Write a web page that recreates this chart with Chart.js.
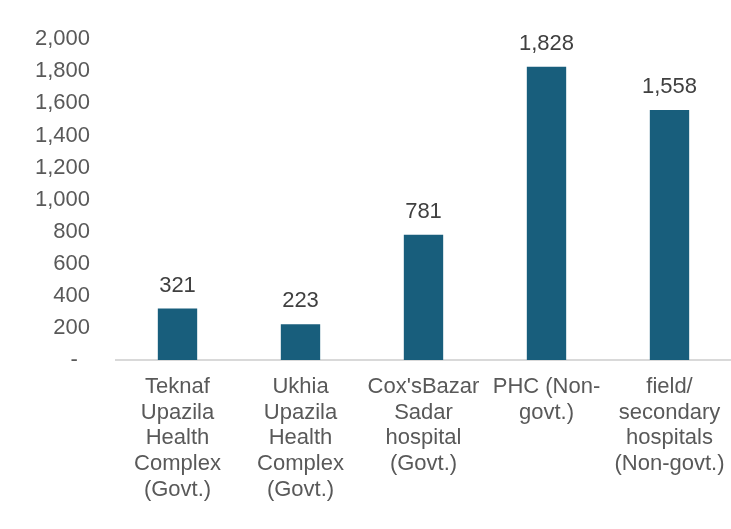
<!DOCTYPE html>
<html>
<head>
<meta charset="utf-8">
<script src="https://cdn.jsdelivr.net/npm/chart.js@4/dist/chart.umd.min.js"></script>
<style>
  html, body { margin: 0; padding: 0; background: #ffffff; }
  #wrap { width: 731px; height: 529px; position: relative; }
</style>
</head>
<body>
<div id="wrap"><canvas id="c" width="731" height="529"></canvas></div>
<script>
// Facility types, each label split into its printed lines
const categories = [
  ['Teknaf', 'Upazila', 'Health', 'Complex', '(Govt.)'],
  ['Ukhia', 'Upazila', 'Health', 'Complex', '(Govt.)'],
  ["Cox'sBazar", 'Sadar', 'hospital', '(Govt.)'],
  ['PHC (Non-', 'govt.)'],
  ['field/', 'secondary', 'hospitals', '(Non-govt.)']
];
// Count per facility type
const counts = [321, 223, 781, 1828, 1558];
// Value axis ticks
const yTicks = [0, 200, 400, 600, 800, 1000, 1200, 1400, 1600, 1800, 2000];

const FONT = '"Liberation Sans", Arial, sans-serif';
const fmt = v => v === 0 ? '-  ' : v.toLocaleString('en-US');

// Writes each bar's value above it
const valueLabels = {
  id: 'valueLabels',
  afterDatasetsDraw(chart) {
    const ctx = chart.ctx;
    const meta = chart.getDatasetMeta(0);
    ctx.save();
    ctx.font = '22px ' + FONT;
    ctx.fillStyle = '#404040';
    ctx.textAlign = 'center';
    ctx.textBaseline = 'alphabetic';
    meta.data.forEach((bar, i) => {
      ctx.fillText(counts[i].toLocaleString('en-US'), bar.x, bar.y - 17);
    });
    ctx.restore();
  }
};

new Chart(document.getElementById('c'), {
  type: 'bar',
  data: {
    labels: categories,
    datasets: [{
      data: counts,
      backgroundColor: '#185E7C',
      borderWidth: 0,
      categoryPercentage: 1,
      barPercentage: 0.32
    }]
  },
  options: {
    responsive: false,
    animation: false,
    devicePixelRatio: 1,
    layout: { padding: { top: 25, right: 0, bottom: 0, left: 0 } },
    plugins: { legend: { display: false }, tooltip: { enabled: false } },
    scales: {
      x: {
        grid: { display: false, drawTicks: false },
        border: { display: true, color: '#D9D9D9', width: 2 },
        ticks: {
          color: '#595959',
          font: { family: FONT, size: 22, lineHeight: 1.17 },
          padding: 14,
          maxRotation: 0,
          autoSkip: false
        },
        afterFit(scale) {
          scale.height = 169;
          scale.paddingLeft = 0;
          scale.paddingRight = 0;
        }
      },
      y: {
        min: 0,
        max: 2000,
        afterBuildTicks(scale) { scale.ticks = yTicks.map(v => ({ value: v })); },
        grid: { display: false, drawTicks: false },
        border: { display: false },
        ticks: {
          color: '#595959',
          font: { family: FONT, size: 22 },
          padding: 26,
          callback: v => fmt(v)
        },
        afterFit(scale) { scale.width = 116; }
      }
    }
  },
  plugins: [valueLabels]
});
</script>
</body>
</html>
